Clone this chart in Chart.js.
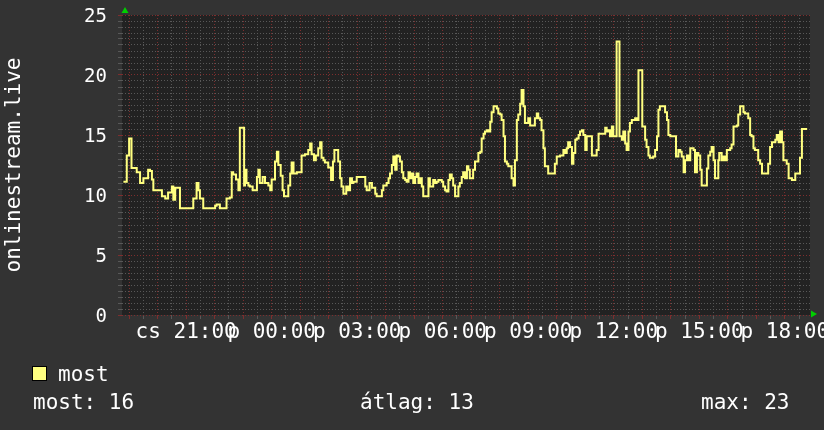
<!DOCTYPE html>
<html><head><meta charset="utf-8">
<script src="https://cdn.jsdelivr.net/npm/chart.js@4.4.0/dist/chart.umd.min.js"></script>
<style>
html,body{margin:0;padding:0;background:#333333;}
#wrap{position:relative;width:824px;height:430px;overflow:hidden;background:#333333;}
canvas{position:absolute;left:0;top:0;}
.t{position:absolute;font-family:"DejaVu Sans Mono",monospace;font-size:21px;color:#ffffff;line-height:21px;white-space:pre;}
.sw{position:absolute;left:32px;top:366px;width:13px;height:13px;background:#ffff80;border:1px solid #000;}
</style></head><body>
<div id="wrap">
<canvas id="c" width="824" height="430"></canvas>
<div class="sw"></div>
<div class="t" id="lg" style="left:58px;top:364px"></div>
<div class="t" id="s1" style="left:33px;top:392px"></div>
<div class="t" id="s2" style="left:360px;top:392px"></div>
<div class="t" id="s3" style="left:701px;top:392px"></div>
</div>
<script>
// ---- data ----
const seriesName = 'most';
const axisTitle = 'onlinestream.live';
// minutes since the start of the window (18:45)
const minutesFromStart = [3,10,15,20,31,38,45,55,59,63,66,84,91,97,105,108,112,122,150,157,161,164,171,196,199,206,220,227,231,234,240,245,248,257,259,262,266,269,275,284,287,290,296,301,308,312,315,322,326,329,334,338,341,350,354,357,361,368,378,385,392,396,399,404,408,413,417,420,424,427,434,440,444,447,455,459,462,466,472,476,480,484,487,494,512,515,521,526,533,536,547,550,557,561,564,568,571,575,578,582,585,589,592,596,599,603,606,610,613,617,620,624,627,631,634,645,648,655,659,662,666,673,676,680,683,687,690,694,697,701,708,711,715,718,722,726,729,732,739,743,750,754,757,761,764,768,771,775,778,782,789,792,796,799,803,806,810,813,820,824,827,831,834,838,841,845,848,855,859,869,873,876,880,883,887,890,897,911,915,922,929,932,936,939,943,947,950,954,957,961,964,968,971,975,978,989,999,1003,1017,1020,1024,1027,1031,1034,1041,1047,1052,1055,1059,1062,1066,1069,1073,1080,1083,1087,1095,1101,1104,1108,1111,1118,1122,1126,1129,1132,1143,1147,1150,1154,1166,1171,1175,1178,1182,1185,1189,1192,1196,1203,1206,1210,1213,1217,1220,1231,1234,1238,1241,1245,1248,1255,1257,1262,1266,1269,1273,1280,1283,1287,1294,1297,1301,1308,1311,1318,1322,1325,1329,1332,1339,1343,1347,1360,1364,1368,1375,1378,1382,1385,1389,1392,1399,1403,1410,1417,1427,1431,1442];
const viewers = [11.1,13.3,14.7,12.25,11.9,11,11.4,12.1,12,11.3,10.4,9.9,9.7,10.2,10.7,9.6,10.6,8.9,9.7,11,10.4,9.7,8.9,9.1,9.2,8.9,9.7,9.8,11.9,11.7,11.3,10.4,15.6,10.8,12.1,11,10.8,10.7,10.4,11.5,12.1,11,11.5,11,10.8,10.4,11.3,12.8,13.6,12.5,11.6,10.4,9.9,10.8,11.8,12.7,11.8,11.9,13.3,13.4,13.75,14.3,13.4,12.9,13.3,13.9,14.4,13.1,12.9,12.7,12.3,11.25,12.8,13.75,12.8,11.4,10.7,10.1,10.7,10.4,11.4,11,11.1,11.5,10.7,10.4,11,10.6,10.1,9.9,10.4,10.8,11,11.4,11.8,12.5,13.2,12.1,13.3,13.2,12.8,11.9,11.4,11.25,11.1,11.9,11.4,11.8,11,11.5,11.8,11,11.4,10.7,9.9,11.4,10.7,11.25,11,11.1,11.25,11.1,10.7,10.4,10.3,11.25,11.7,11.4,10.8,9.9,10.7,11,11.5,11.9,11.4,12.4,12.1,11.4,12.1,12.8,13.5,13.6,14.7,15.1,15.3,15.4,15.3,16.1,16.9,17.4,17.2,16.8,16.7,16.25,14.9,12.8,12.6,12.4,11.4,10.8,12.9,16.25,16.7,17.6,18.75,17.4,16,16.4,15.8,16.4,16.8,16.4,16.25,15.4,13.9,12.4,11.8,12.6,13.2,13.3,13.75,13.5,13.9,14.4,14,12.6,13.5,14.6,14.7,15,15.3,15.4,15,13.75,14.9,13.3,13.75,15.1,15.6,15.3,15.4,14.9,15.7,14.9,22.8,14.9,14.6,15.3,14.3,13.75,15.3,16,16.25,16.4,16.25,20.4,15.7,14.6,14,13.3,13.1,13.2,13.75,14.9,17.1,17.4,16.9,16.25,15,14.9,13.2,13.75,13.6,13.2,11.9,12.9,13.3,12.9,13.9,13.75,11.9,13.5,13.3,12.1,10.8,12.2,13.3,13.6,14,12.9,11.4,12.9,13.5,12.9,13.2,12.9,13.75,13.9,14.2,15.7,15.8,16.7,17.4,16.9,16.8,16.4,15,14.9,13.9,13.75,12.9,12.6,11.8,12.6,14,14.4,14.6,15,14.4,15.3,14.4,12.9,12.6,11.4,11.25,11.8,13.1,15.5,15.5];
// x axis: labelled ticks (minutes from 18:45) and their texts
const xLabelMinutes = [135,315,495,675,855,1035,1215,1395];
const xLabelTexts = ['cs 21:00','p 00:00','p 03:00','p 06:00','p 09:00','p 12:00','p 15:00','p 18:00'];
const windowMinutes = 1448;
const yMax = 25;
const yLabelValues = [0,5,10,15,20,25];
// legend statistics as printed
const statNames = ['most:','átlag:','max:'];
const statValues = ['16','13','23'];

// ---- text below the chart ----
document.getElementById('lg').textContent = seriesName;
document.getElementById('s1').textContent = statNames[0]+' '+statValues[0];
document.getElementById('s2').textContent = statNames[1]+' '+statValues[1];
document.getElementById('s3').textContent = statNames[2]+' '+statValues[2];

const RED = 'rgba(125,46,46,1)';
const GRAY = 'rgba(88,88,88,1)';
const FONT = 'DejaVu Sans Mono';

const bgPlugin = {
  id:'bg',
  beforeDraw(chart){
    const {ctx, chartArea:a} = chart;
    ctx.save(); ctx.fillStyle = '#222222';
    ctx.fillRect(a.left, a.top, a.right-a.left, a.bottom-a.top);
    ctx.restore();
  },
  afterDraw(chart){
    const {ctx, chartArea:a} = chart;
    ctx.save(); ctx.fillStyle = '#00d000';
    ctx.beginPath();
    ctx.moveTo(a.left+3, a.top-8); ctx.lineTo(a.left-0.5, a.top-2); ctx.lineTo(a.left+6.5, a.top-2); ctx.closePath(); ctx.fill();
    ctx.beginPath();
    ctx.moveTo(a.right+7, a.bottom-1); ctx.lineTo(a.right+1, a.bottom-4.5); ctx.lineTo(a.right+1, a.bottom+2.5); ctx.closePath(); ctx.fill();
    ctx.restore();
  }
};

new Chart(document.getElementById('c'), {
  type:'line',
  data:{datasets:[{
    label:seriesName,
    data:minutesFromStart.map((m,i)=>({x:m,y:viewers[i]})),
    borderColor:'#ffff80', borderWidth:2, pointRadius:0, fill:false,
    stepped:'before', tension:0
  }]},
  options:{
    responsive:false, animation:false, events:[],
    layout:{padding:{left:0,right:14,top:15,bottom:80}},
    plugins:{legend:{display:false}, tooltip:{enabled:false}},
    scales:{
      x:{
        type:'linear', min:0, max:windowMinutes,
        afterBuildTicks(s){ const t=[]; for(let m=15;m<windowMinutes;m+=30) t.push({value:m}); s.ticks=t; },
        afterFit(s){ s.height = 35; s.paddingLeft = 0; s.paddingRight = 0; },
        ticks:{autoSkip:false, maxRotation:0, minRotation:0, color:'#ffffff', padding:1,
          font:{family:FONT,size:21},
          callback(v){ const k=xLabelMinutes.indexOf(v); return k>=0? xLabelTexts[k] : ''; }},
        grid:{color(c){ const v=c.tick? c.tick.value:0; return ((v-15)%60===0)? RED:GRAY; },
          tickColor(c){ const v=c.tick? c.tick.value:0; return ((v-15)%60===0)? RED:GRAY; },
          lineWidth:1, drawTicks:true, tickLength:4},
        border:{display:false, dash:[1,2]}
      },
      y:{
        min:0, max:yMax,
        afterBuildTicks(s){ const t=[]; for(let v=0; v<=yMax*2; v++) t.push({value:v/2}); s.ticks=t; },
        afterFit(s){ s.width = 122; s.paddingTop = 0; s.paddingBottom = 0; },
        ticks:{autoSkip:false, color:'#ffffff', padding:11, labelOffset:2, font:{family:FONT,size:19},
          callback(v){ return yLabelValues.includes(v)? String(v) : ''; }},
        grid:{color(c){ const v=c.tick? c.tick.value:0; return (v%5===0)? RED:GRAY; },
          tickColor(c){ const v=c.tick? c.tick.value:0; return (v%5===0)? RED:GRAY; },
          lineWidth:1, drawTicks:true, tickLength:4},
        border:{display:false, dash:[1,2]},
        title:{display:true, text:axisTitle, color:'#ffffff', font:{family:FONT,size:21}, padding:{top:2,bottom:0}}
      }
    }
  },
  plugins:[bgPlugin]
});
</script>
</body></html>
